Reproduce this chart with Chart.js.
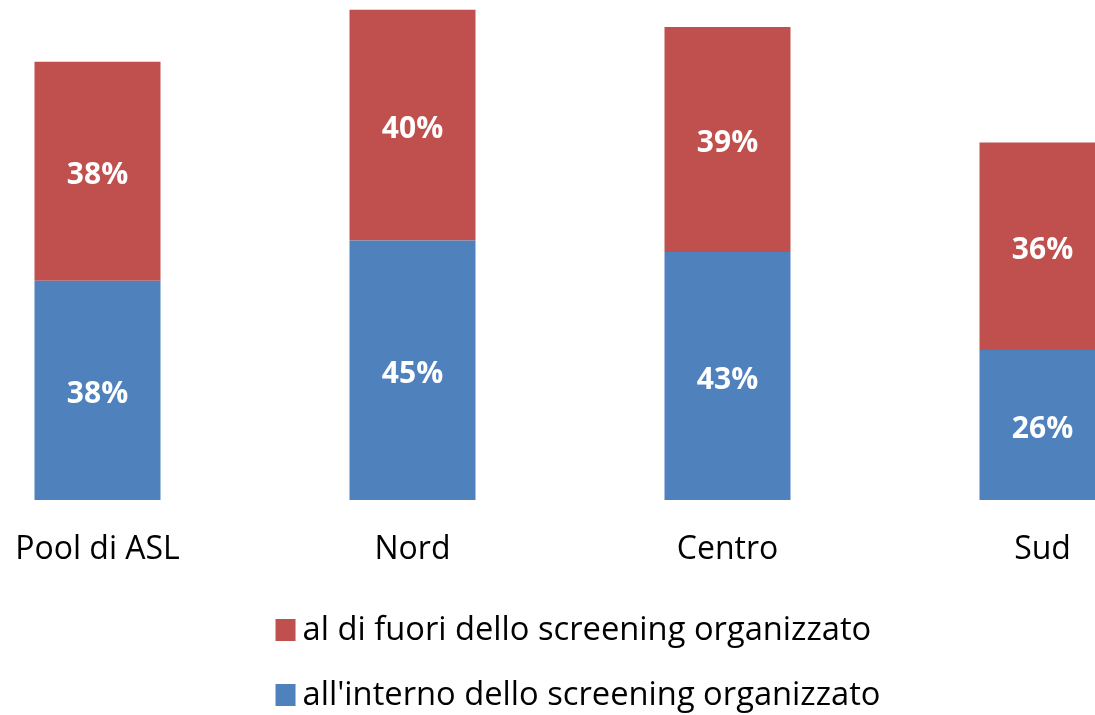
<!DOCTYPE html>
<html>
<head>
<meta charset="utf-8">
<script src="https://cdn.jsdelivr.net/npm/chart.js@4"></script>
<style>
  html, body { margin: 0; padding: 0; background: #fff; }
  #wrap { position: relative; width: 1095px; height: 715px; overflow: hidden; }
  #myChart { position: absolute; left: -60px; top: 0; }
</style>
</head>
<body>
<div id="wrap"><canvas id="myChart" width="1260" height="715"></canvas></div>
<script>
// data
const labels = ['Pool di ASL', 'Nord', 'Centro', 'Sud'];
const dentro = [38, 45, 43, 26];
const fuori = [38, 40, 39, 36];
const seriesNames = ["all'interno dello screening organizzato", 'al di fuori dello screening organizzato'];

const FONT = "'Open Sans', sans-serif";

// white % values in the middle of every piece
const valueLabels = {
  id: 'valueLabels',
  afterDatasetsDraw(chart) {
    const ctx = chart.ctx;
    ctx.save();
    ctx.fillStyle = '#ffffff';
    ctx.font = 'bold 30px ' + FONT;
    ctx.textAlign = 'center';
    ctx.textBaseline = 'middle';
    chart.data.datasets.forEach((ds, i) => {
      chart.getDatasetMeta(i).data.forEach((el, j) => {
        ctx.fillText(ds.data[j] + '%', el.x, (el.y + el.base) / 2 + 4);
      });
    });
    ctx.restore();
  }
};

// legend stacked in two rows, red first
const legendRows = {
  id: 'legendRows',
  afterDraw(chart) {
    const ctx = chart.ctx;
    ctx.save();
    ctx.font = '32.7px ' + FONT;
    ctx.textBaseline = 'middle';
    const items = chart.data.datasets.slice().reverse();
    let maxW = 0;
    items.forEach(ds => { maxW = Math.max(maxW, ctx.measureText(ds.label).width); });
    const x0 = (chart.width - (maxW + 27)) / 2 + 8;
    items.forEach((ds, k) => {
      const yc = 631 + k * 65;
      ctx.fillStyle = ds.backgroundColor;
      ctx.fillRect(x0, yc - 12, 20, 22);
      ctx.fillStyle = '#000000';
      ctx.fillText(ds.label, x0 + 27, yc);
    });
    ctx.restore();
  }
};

const chart = new Chart(
  document.getElementById('myChart'),
  {
    type: 'bar',
    data: {
      labels: labels,
      datasets: [{
        label: seriesNames[0],
        data: dentro,
        backgroundColor: '#4F81BD',
        barPercentage: 0.4,
        categoryPercentage: 1
      }, {
        label: seriesNames[1],
        data: fuori,
        backgroundColor: '#C0504D',
        barPercentage: 0.4,
        categoryPercentage: 1
      }]
    },
    options: {
      responsive: false,
      animation: false,
      layout: { padding: 0 },
      plugins: {
        legend: { display: false },
        tooltip: { enabled: false }
      },
      scales: {
        x: {
          stacked: true,
          grid: { display: false },
          border: { display: false },
          ticks: {
            color: '#000000',
            font: { family: FONT, size: 32 },
            padding: 23
          },
          afterFit: (scale) => { scale.height = 215; }
        },
        y: {
          stacked: true,
          display: false,
          min: 0,
          max: 86.7
        }
      }
    },
    plugins: [valueLabels, legendRows]
  }
);
</script>
</body>
</html>
